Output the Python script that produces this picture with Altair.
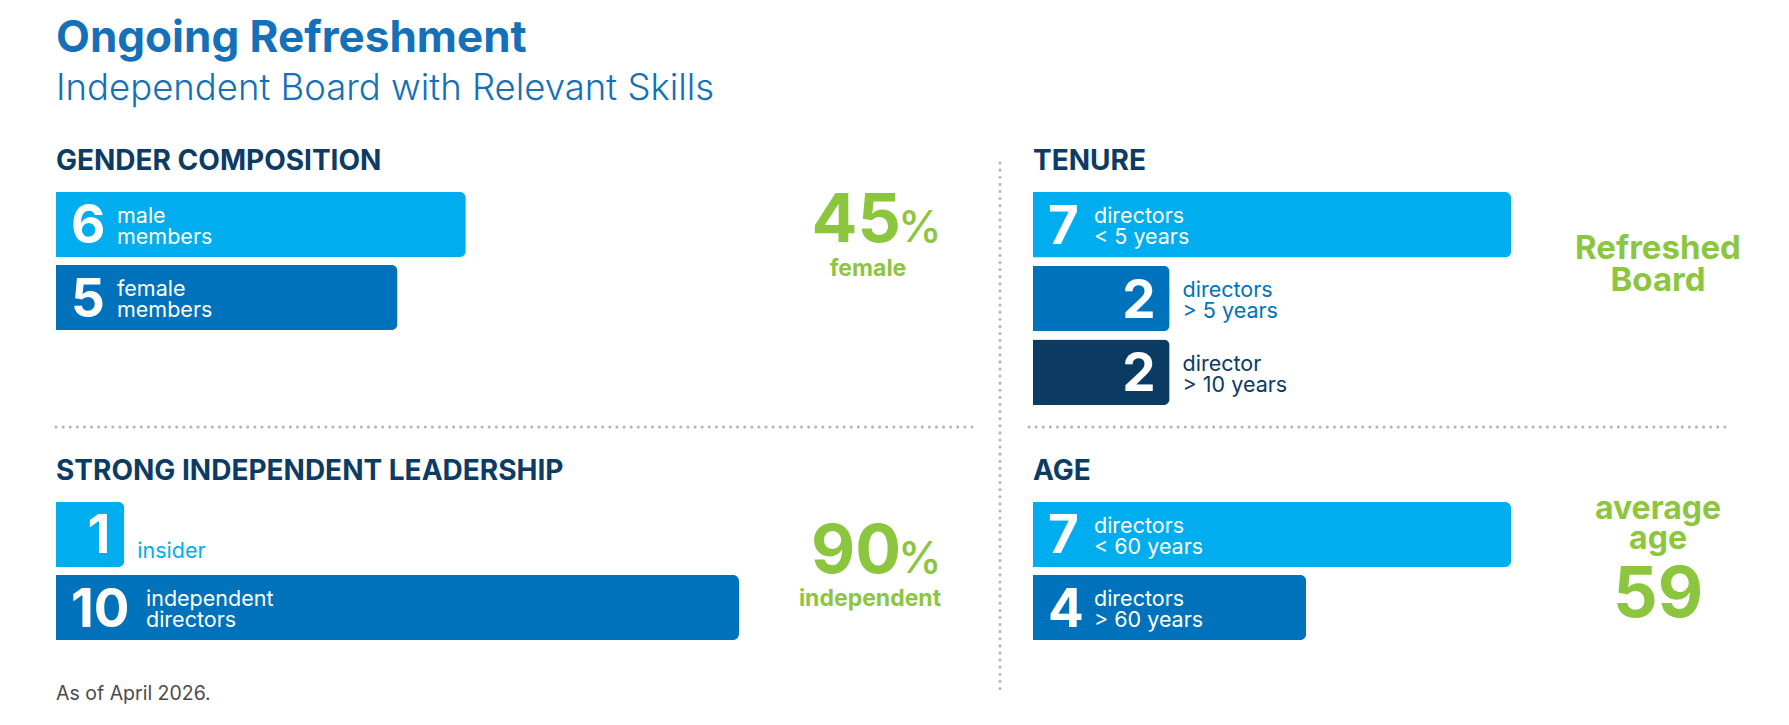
import altair as alt
import pandas as pd

# ---------------- data ----------------
TITLE = "Ongoing Refreshment"
SUBTITLE = "Independent Board with Relevant Skills"
FOOTNOTE = "As of April 2026."

section_titles = ["GENDER COMPOSITION", "TENURE", "STRONG INDEPENDENT LEADERSHIP", "AGE"]

gender_cats = ["male", "female"]
gender_values = [6, 5]
gender_line1 = ["male", "female"]
gender_line2 = ["members", "members"]

lead_cats = ["insider", "independent"]
lead_values = [1, 10]
lead_line1 = ["", "independent"]
lead_line2 = ["insider", "directors"]

tenure_cats = ["under 5", "over 5", "over 10"]
tenure_values = [7, 2, 2]
tenure_line1 = ["directors", "directors", "director"]
tenure_line2 = ["< 5 years", "> 5 years", "> 10 years"]

age_cats = ["under 60", "over 60"]
age_values = [7, 4]
age_line1 = ["directors", "directors"]
age_line2 = ["< 60 years", "> 60 years"]

female_pct = 45
female_word = "female"
independent_pct = 90
independent_word = "independent"
refreshed_lines = ["Refreshed", "Board"]
average_lines = ["average", "age"]
average_age = 59

# ---------------- styles ----------------
FONT = "Inter"
LIGHT = "#00aeef"
MID = "#0072bc"
NAVY = "#0b3a63"
GREEN = "#8cc63f"
TITLE_BLUE = "#1470b8"
HEAD = "#0c3b63"
LABEL_SIZE = 21.5
LABEL_LH = 21


def panel(cats, values, line1, line2, x_range, y_range):
    df = pd.DataFrame({
        "cat": cats,
        "value": values,
        "line1": line1,
        "line2": line2,
        "rank": list(range(1, len(cats) + 1)),
    })
    df["num"] = df["value"].astype(str)
    base = alt.Chart(df).transform_calculate(
        zero="0", lines="datum.line1 + '\\n' + datum.line2"
    )
    xs = alt.Scale(domain=[0, 10], range=x_range, zero=True, nice=False)
    ys = alt.Scale(type="band", domain=cats, range=y_range,
                   paddingInner=0.11, paddingOuter=0)
    X = alt.X("value:Q", scale=xs, axis=None)
    X0 = alt.X("zero:Q", scale=xs, axis=None)
    Y = alt.Y("cat:N", scale=ys, axis=None, sort=cats)
    color = alt.Color("rank:O", scale=alt.Scale(domain=[1, 2, 3], range=[LIGHT, MID, NAVY]),
                      legend=None)

    bars = base.mark_bar(cornerRadiusEnd=6).encode(x=X, y=Y, color=color)

    num_in = base.transform_filter("datum.value >= 4").mark_text(
        align="left", baseline="alphabetic", dx=15, dy=19, fontSize=53,
        fontWeight="bold", font=FONT, color="white").encode(x=X0, y=Y, text="num:N")
    num_out = base.transform_filter("datum.value < 4").mark_text(
        align="right", baseline="alphabetic", dx=-14, dy=19, fontSize=53,
        fontWeight="bold", font=FONT, color="white").encode(x=X, y=Y, text="num:N")

    layers = [bars, num_in, num_out]
    for flt, dx in [("datum.value >= 4 && datum.value < 10", 61), ("datum.value >= 10", 90)]:
        layers.append(base.transform_filter(flt).mark_text(
            align="left", baseline="alphabetic", dx=dx, dy=-1.5, fontSize=LABEL_SIZE,
            lineBreak="\n", lineHeight=LABEL_LH,
            font=FONT, color="white").encode(x=X0, y=Y, text="lines:N"))
    two_line = "datum.value < 4 && datum.line1 != ''"
    one_line = "datum.value < 4 && datum.line1 == ''"
    layers.append(base.transform_filter(two_line).mark_text(
        align="left", baseline="alphabetic", dx=13, dy=-1.5, fontSize=LABEL_SIZE,
        lineBreak="\n", lineHeight=LABEL_LH,
        font=FONT).encode(x=X, y=Y, text="lines:N", color=color))
    layers.append(base.transform_filter(one_line).mark_text(
        align="left", baseline="alphabetic", dx=13, dy=24, fontSize=LABEL_SIZE,
        font=FONT).encode(x=X, y=Y, text="line2:N", color=color))
    return alt.layer(*layers)


def note(text, x, y, size, color, weight="normal", align="left", lh=None):
    props = dict(align=align, baseline="alphabetic", fontSize=size, fontWeight=weight,
                 font=FONT, color=color)
    if lh is not None:
        props.update(lineBreak="\n", lineHeight=lh)
    return alt.Chart(pd.DataFrame({"t": [text]})).mark_text(**props).encode(
        x=alt.value(x), y=alt.value(y), text="t:N")


def dots(x, x2, y, y2):
    return alt.Chart(pd.DataFrame({"k": [0]})).mark_rule(
        color="#b3b5b8", strokeWidth=3, strokeCap="round", strokeDash=[0.1, 7]
    ).encode(x=alt.value(x), x2=alt.value(x2), y=alt.value(y), y2=alt.value(y2))


LEFT = [48, 731]
RIGHT = [1025, 1708]

layers = [
    panel(gender_cats, gender_values, gender_line1, gender_line2, LEFT, [184, 322]),
    panel(tenure_cats, tenure_values, tenure_line1, tenure_line2, RIGHT, [184, 397]),
    panel(lead_cats, lead_values, lead_line1, lead_line2, LEFT, [494, 632]),
    panel(age_cats, age_values, age_line1, age_line2, RIGHT, [494, 632]),
    dots(992, 992, 155, 681),
    dots(48, 964, 419, 419),
    dots(1021, 1723, 419, 419),
    note(TITLE, 48, 44, 44, TITLE_BLUE, "bold"),
    note(SUBTITLE, 48, 92, 36.5, TITLE_BLUE, 300),
    note(section_titles[0], 48, 162, 28, HEAD, "bold"),
    note(section_titles[1], 1025, 162, 28, HEAD, "bold"),
    note(section_titles[2], 48, 472, 28, HEAD, "bold"),
    note(section_titles[3], 1025, 472, 28, HEAD, "bold"),
    note(str(female_pct), 893, 234, 68, GREEN, "bold", "right"),
    note("%", 890, 234, 44, GREEN, 500),
    note(female_word, 860, 268, 23, GREEN, "bold", "center"),
    note(str(independent_pct), 893, 565, 68, GREEN, "bold", "right"),
    note("%", 890, 565, 44, GREEN, 500),
    note(independent_word, 862, 598, 23, GREEN, "bold", "center"),
    note("\n".join(refreshed_lines), 1650, 251, 33, GREEN, "bold", "center", lh=32),
    note("\n".join(average_lines), 1650, 511, 32, GREEN, "bold", "center", lh=30),
    note(str(average_age), 1650, 609, 70, GREEN, "bold", "center"),
    note(FOOTNOTE, 48, 692, 19.5, "#4a4a4a"),
]

chart = alt.layer(*layers).resolve_scale(
    x="independent", y="independent"
).properties(
    width=1772, height=708, padding=0, autosize=alt.AutoSizeParams(type="none"),
    background="white",
).configure_view(stroke=None)

chart.save("out.html", embed_options={"renderer": "svg", "actions": False})
